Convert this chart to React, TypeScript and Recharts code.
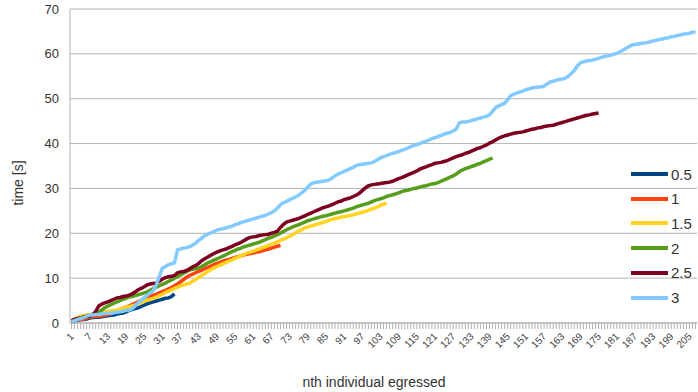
import React from "react";
import { LineChart, Line, XAxis, YAxis, CartesianGrid } from "recharts";

// nth individual egressed, 1..207
const categories: number[] = Array.from({ length: 207 }, (_, i) => i + 1);

const yTicks = [0, 10, 20, 30, 40, 50, 60, 70];

// time [s] per series
const s05 = [
  0.3, 0.4, 0.6, 0.7, 0.8, 0.9, 1.1, 1.2, 1.3, 1.3,
  1.4, 1.5, 1.6, 1.7, 1.8, 2.0, 2.1, 2.2, 2.5, 2.8,
  3.0, 3.2, 3.4, 3.7, 4.0, 4.3, 4.5, 4.7, 4.9, 5.1,
  5.3, 5.5, 5.6, 5.9, 6.5,
];

const s1 = [
  0.3, 0.5, 0.7, 0.8, 0.9, 1.1, 1.3, 1.4, 1.5, 1.5,
  1.6, 1.7, 1.9, 2.1, 2.4, 2.7, 3.0, 3.3, 3.5, 3.8,
  4.1, 4.4, 4.7, 5.0, 5.4, 5.8, 6.0, 6.2, 6.4, 6.7,
  7.0, 7.3, 7.6, 7.9, 8.3, 8.7, 9.2, 9.7, 10.2, 10.6,
  10.9, 11.2, 11.5, 11.8, 12.1, 12.4, 12.7, 13.0, 13.3, 13.5,
  13.8, 14.0, 14.2, 14.4, 14.6, 14.8, 15.0, 15.2, 15.3, 15.5,
  15.6, 15.8, 15.9, 16.1, 16.3, 16.5, 16.7, 16.9, 17.1, 17.3,
];

const s15 = [
  0.5, 0.9, 1.2, 1.5, 1.6, 1.8, 1.9, 2.0, 2.2, 2.3,
  2.4, 2.5, 2.6, 2.7, 2.8, 2.9, 3.1, 3.3, 3.5, 3.7,
  3.8, 4.0, 4.2, 4.5, 4.8, 5.1, 5.3, 5.5, 5.8, 6.1,
  6.4, 6.8, 7.1, 7.4, 7.7, 8.0, 8.3, 8.5, 8.7, 8.9,
  9.3, 9.7, 10.2, 10.6, 11.0, 11.5, 11.9, 12.3, 12.6, 12.9,
  13.2, 13.5, 13.8, 14.1, 14.4, 14.7, 15.0, 15.3, 15.6, 15.8,
  16.0, 16.3, 16.5, 16.8, 17.0, 17.3, 17.6, 17.8, 18.1, 18.4,
  18.7, 19.0, 19.3, 19.7, 20.1, 20.5, 20.8, 21.2, 21.4, 21.6,
  21.8, 22.0, 22.2, 22.4, 22.6, 22.9, 23.1, 23.3, 23.4, 23.6,
  23.7, 23.8, 24.0, 24.1, 24.3, 24.5, 24.7, 24.9, 25.1, 25.4,
  25.6, 25.9, 26.2, 26.5, 26.7,
];

const s2 = [
  0.5, 0.7, 0.9, 1.1, 1.3, 1.4, 1.6, 1.8, 2.1, 2.4,
  2.9, 3.4, 3.8, 4.1, 4.4, 4.7, 5.0, 5.3, 5.5, 5.8,
  5.9, 6.1, 6.3, 6.5, 6.7, 6.9, 7.3, 7.7, 8.0, 8.3,
  8.6, 8.9, 9.3, 9.6, 10.0, 10.3, 10.7, 11.1, 11.5, 11.8,
  12.0, 12.1, 12.3, 12.6, 13.0, 13.4, 13.7, 14.0, 14.3, 14.6,
  14.9, 15.2, 15.6, 15.9, 16.2, 16.5, 16.7, 17.0, 17.2, 17.4,
  17.6, 17.8, 18.0, 18.3, 18.6, 18.9, 19.1, 19.4, 19.7, 20.0,
  20.4, 20.8, 21.1, 21.4, 21.7, 21.9, 22.2, 22.5, 22.8, 23.0,
  23.2, 23.4, 23.6, 23.8, 23.9, 24.1, 24.3, 24.5, 24.7, 24.8,
  25.0, 25.2, 25.4, 25.6, 25.9, 26.1, 26.3, 26.5, 26.7, 27.0,
  27.3, 27.5, 27.7, 27.9, 28.2, 28.4, 28.6, 28.8, 29.0, 29.3,
  29.5, 29.6, 29.8, 30.0, 30.1, 30.3, 30.5, 30.6, 30.8, 31.0,
  31.1, 31.3, 31.6, 31.9, 32.2, 32.5, 32.8, 33.2, 33.7, 34.1,
  34.4, 34.6, 34.9, 35.1, 35.4, 35.6, 35.9, 36.2, 36.5, 36.8,
];

const s25 = [
  0.5, 0.8, 1.0, 1.1, 1.3, 1.5, 1.6, 1.8, 2.6, 3.8,
  4.2, 4.5, 4.7, 5.0, 5.3, 5.6, 5.7, 5.9, 6.0, 6.2,
  6.5, 6.9, 7.4, 7.7, 8.1, 8.5, 8.7, 8.8, 8.9, 9.3,
  9.8, 10.1, 10.3, 10.4, 10.6, 11.2, 11.4, 11.5, 11.7, 12.1,
  12.5, 12.8, 13.3, 13.9, 14.3, 14.7, 15.1, 15.5, 15.8, 16.1,
  16.3, 16.5, 16.8, 17.1, 17.4, 17.7, 18.0, 18.4, 18.8, 19.1,
  19.2, 19.3, 19.5, 19.6, 19.7, 19.8, 20.0, 20.2, 20.5, 21.3,
  22.0, 22.5, 22.7, 22.9, 23.1, 23.3, 23.6, 23.9, 24.2, 24.5,
  24.8, 25.1, 25.4, 25.7, 25.9, 26.1, 26.4, 26.7, 27.0, 27.2,
  27.5, 27.7, 27.9, 28.2, 28.5, 28.9, 29.5, 30.1, 30.6, 30.8,
  30.9, 31.0, 31.1, 31.2, 31.3, 31.4, 31.6, 31.9, 32.2, 32.4,
  32.7, 33.0, 33.3, 33.6, 33.9, 34.3, 34.6, 34.8, 35.1, 35.3,
  35.6, 35.7, 35.8, 36.0, 36.2, 36.5, 36.8, 37.1, 37.3, 37.5,
  37.8, 38.0, 38.3, 38.6, 38.9, 39.1, 39.4, 39.7, 40.1, 40.4,
  40.8, 41.2, 41.5, 41.7, 41.9, 42.1, 42.3, 42.4, 42.5, 42.6,
  42.8, 43.0, 43.2, 43.3, 43.5, 43.6, 43.8, 43.9, 44.0, 44.1,
  44.3, 44.5, 44.7, 44.9, 45.1, 45.3, 45.5, 45.7, 45.9, 46.1,
  46.3, 46.4, 46.6, 46.7, 46.8,
];

const s3 = [
  0.3, 0.5, 0.8, 1.0, 1.2, 1.5, 1.8, 1.8, 1.9, 1.9,
  2.0, 2.1, 2.2, 2.2, 2.3, 2.4, 2.5, 2.6, 2.8, 2.9,
  3.2, 3.8, 4.5, 5.0, 5.6, 6.2, 6.7, 7.2, 8.5, 10.4,
  12.2, 12.6, 13.0, 13.2, 13.4, 16.3, 16.5, 16.7, 16.8, 17.0,
  17.4, 17.8, 18.4, 18.9, 19.5, 19.8, 20.1, 20.4, 20.7, 20.9,
  21.0, 21.2, 21.4, 21.6, 21.9, 22.1, 22.4, 22.6, 22.8, 23.0,
  23.2, 23.4, 23.6, 23.8, 24.0, 24.3, 24.6, 25.0, 25.6, 26.4,
  26.8, 27.1, 27.5, 27.8, 28.1, 28.5, 29.0, 29.6, 30.3, 31.0,
  31.3, 31.4, 31.5, 31.6, 31.7, 31.9, 32.3, 32.8, 33.2, 33.5,
  33.8, 34.1, 34.4, 34.7, 35.1, 35.3, 35.4, 35.5, 35.6, 35.7,
  36.0, 36.4, 36.8, 37.1, 37.3, 37.6, 37.8, 38.0, 38.2, 38.5,
  38.7, 39.0, 39.3, 39.6, 39.8, 40.0, 40.3, 40.5, 40.8, 41.1,
  41.3, 41.6, 41.8, 42.1, 42.3, 42.5, 42.8, 43.2, 44.6, 44.8,
  44.8, 44.9, 45.1, 45.3, 45.5, 45.7, 45.9, 46.1, 46.4, 47.2,
  48.0, 48.4, 48.7, 49.0, 49.8, 50.7, 51.0, 51.3, 51.5, 51.7,
  52.0, 52.2, 52.4, 52.5, 52.6, 52.6, 52.8, 53.3, 53.7, 53.9,
  54.1, 54.3, 54.4, 54.6, 55.0, 55.6, 56.3, 57.3, 58.0, 58.2,
  58.4, 58.5, 58.6, 58.8, 59.0, 59.2, 59.4, 59.6, 59.7, 59.9,
  60.1, 60.4, 60.8, 61.2, 61.6, 62.0, 62.1, 62.2, 62.3, 62.4,
  62.5, 62.7, 62.9, 63.0, 63.2, 63.3, 63.5, 63.6, 63.8, 63.9,
  64.1, 64.2, 64.4, 64.5, 64.6, 64.8, 64.9,
];

const series = [
  { key: "s05", label: "0.5", color: "#004586", values: s05 },
  { key: "s1", label: "1", color: "#ff420e", values: s1 },
  { key: "s15", label: "1.5", color: "#ffd320", values: s15 },
  { key: "s2", label: "2", color: "#579d1c", values: s2 },
  { key: "s25", label: "2.5", color: "#7e0021", values: s25 },
  { key: "s3", label: "3", color: "#83caff", values: s3 },
];

const rows = categories.map((n, i) => {
  const row: Record<string, number | undefined> = { n };
  series.forEach((s) => {
    row[s.key] = s.values[i];
  });
  return row;
});

const FONT = "'Liberation Sans', Arial, sans-serif";
const GRID = "#b3b3b3";

// every category gets a tick mark, every 6th one a slanted label
const CategoryTick = (props: any) => {
  const { x, y, payload } = props;
  const showLabel = (Number(payload.value) - 1) % 6 === 0;
  const ax = x + 3;
  const ay = y + 14;
  return (
    <g>
      <line x1={x} y1={y} x2={x} y2={y + 6} stroke={GRID} strokeWidth={1} />
      {showLabel && (
        <text
          x={ax}
          y={ay}
          textAnchor="end"
          fontSize={10}
          fontFamily={FONT}
          fill="#444"
          transform={`rotate(-45, ${ax}, ${ay})`}
        >
          {payload.value}
        </text>
      )}
    </g>
  );
};

const XTitle = () => (
  <text x={374} y={387} textAnchor="middle" fontSize={14} fontFamily={FONT} fill="#333">
    nth individual egressed
  </text>
);

const YTitle = () => (
  <text
    x={18}
    y={183}
    textAnchor="middle"
    dominantBaseline="central"
    fontSize={14}
    fontFamily={FONT}
    fill="#333"
    transform="rotate(-90, 18, 183)"
  >
    time [s]
  </text>
);

export default function App() {
  return (
    <div style={{ position: "absolute", left: 0, top: 0, width: 698, height: 392, background: "#fff" }}>
      <LineChart width={698} height={392} data={rows} margin={{ top: 9, right: 1, bottom: 0, left: 0 }}>
        <CartesianGrid vertical={false} stroke={GRID} />
        <XAxis
          dataKey="n"
          interval={0}
          tickLine={false}
          tickSize={0}
          tickMargin={0}
          height={69}
          padding={{ left: 1.5, right: 1.5 }}
          stroke={GRID}
          tick={<CategoryTick />}
          label={<XTitle />}
        />
        <YAxis
          domain={[0, 70]}
          ticks={yTicks}
          width={70}
          tickLine={false}
          tickSize={0}
          tickMargin={11}
          stroke={GRID}
          tick={{ fill: "#333", fontSize: 13, fontFamily: FONT }}
          label={<YTitle />}
        />
        {series.map((s) => (
          <Line
            key={s.key}
            type="linear"
            dataKey={s.key}
            stroke={s.color}
            strokeWidth={3.5}
            dot={false}
            activeDot={false}
            isAnimationActive={false}
          />
        ))}
      </LineChart>

      {/* legend sits over the right side of the plot */}
      <div style={{ position: "absolute", left: 631, top: 162, fontFamily: FONT, fontSize: 15, color: "#333" }}>
        {series.map((s, i) => (
          <div
            key={s.key}
            style={{ position: "absolute", top: i * 24.7, left: 0, height: 24, display: "flex", alignItems: "center", whiteSpace: "nowrap" }}
          >
            <span style={{ display: "inline-block", width: 37, height: 4, background: s.color, marginRight: 3 }} />
            <span>{s.label}</span>
          </div>
        ))}
      </div>
    </div>
  );
}
